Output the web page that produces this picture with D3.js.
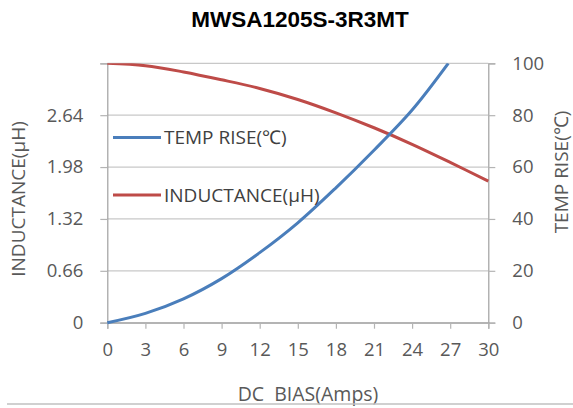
<!DOCTYPE html>
<html>
<head>
<meta charset="utf-8">
<script src="https://cdn.jsdelivr.net/npm/d3@7"></script>
<style>
  html, body { margin: 0; padding: 0; background: #fff; }
  svg { display: block; }
  text { font-family: "Open Sans", sans-serif; fill: #595959; }
</style>
</head>
<body>
<svg id="chart" width="573" height="408"></svg>
<script>
const title = "MWSA1205S-3R3MT";
const xTicks = [0, 3, 6, 9, 12, 15, 18, 21, 24, 27, 30];
const leftTicks = [0, 0.66, 1.32, 1.98, 2.64];
const rightTicks = [0, 20, 40, 60, 80, 100];
const inductAmps = [0, 3, 6, 9, 12, 15, 18, 21, 24, 27, 30];
const inductValues = [3.30, 3.27, 3.19, 3.09, 2.98, 2.84, 2.67, 2.48, 2.27, 2.04, 1.80];
const tempAmps = [0, 3, 6, 9, 12, 15, 18, 21, 24, 26.85];
const tempValues = [0, 3.6, 9.2, 17, 27, 38.5, 52, 66.5, 82, 100];
const seriesNames = ["TEMP RISE(\u2103)", "INDUCTANCE(\u03bcH)"];
const seriesColors = ["#4a7ebb", "#be4b48"];

const svg = d3.select("#chart");
const m = { left: 107.3, right: 488.3, top: 63.3, bottom: 322.7 };

const x = d3.scaleLinear().domain([0, 30]).range([m.left, m.right]);
const yL = d3.scaleLinear().domain([0, 3.3]).range([m.bottom, m.top]);
const yR = d3.scaleLinear().domain([0, 100]).range([m.bottom, m.top]);

// title
svg.append("text").attr("x", 300).attr("y", 27).attr("text-anchor", "middle")
  .style("font-family", "'Liberation Sans', Arial, sans-serif")
  .style("font-weight", "bold").style("font-size", "22.5px").style("fill", "#000")
  .text(title);

// gridlines
svg.append("g").selectAll("line").data(rightTicks).join("line")
  .attr("x1", m.left).attr("x2", m.right)
  .attr("y1", d => yR(d)).attr("y2", d => yR(d))
  .attr("stroke", "#c8c8c8").attr("stroke-width", 1.2);

// left axis
const gL = svg.append("g").attr("transform", `translate(${m.left},0)`)
  .call(d3.axisLeft(yL).tickValues(leftTicks.concat([3.3])).tickSize(7).tickPadding(17)
    .tickFormat(d => d === 3.3 ? "" : (d === 0 ? "0" : d3.format(".2f")(d))));
gL.select(".domain").attr("stroke", "#a0a0a0").attr("stroke-width", 1.2);
gL.selectAll(".tick line").attr("stroke", "#b4b4b4").attr("stroke-width", 1.2);
gL.selectAll(".tick text").style("font-size", "18.5px").style("fill", "#595959")
  .style("font-family", "'Open Sans', sans-serif");

// right axis
const gR = svg.append("g").attr("transform", `translate(${m.right},0)`)
  .call(d3.axisRight(yR).tickValues(rightTicks).tickSize(7).tickPadding(17));
gR.select(".domain").attr("stroke", "#a0a0a0").attr("stroke-width", 1.2);
gR.selectAll(".tick line").attr("stroke", "#b4b4b4").attr("stroke-width", 1.2);
gR.selectAll(".tick text").style("font-size", "18.5px").style("fill", "#595959")
  .style("font-family", "'Open Sans', sans-serif");

// bottom axis
const gB = svg.append("g").attr("transform", `translate(0,${m.bottom})`)
  .call(d3.axisBottom(x).tickValues(xTicks).tickSize(6).tickPadding(14));
gB.select(".domain").attr("stroke", "#a0a0a0").attr("stroke-width", 1.2);
gB.selectAll(".tick line").attr("stroke", "#b4b4b4").attr("stroke-width", 1.2);
gB.selectAll(".tick text").style("font-size", "18.5px").style("fill", "#595959")
  .style("font-family", "'Open Sans', sans-serif");

// curves
svg.append("clipPath").attr("id", "plotclip").append("rect")
  .attr("x", m.left - 2).attr("y", m.top).attr("width", m.right - m.left + 4).attr("height", m.bottom - m.top + 3);

const lineT = d3.line().x(d => x(d[0])).y(d => yR(d[1])).curve(d3.curveCatmullRom.alpha(0.5));
const lineL = d3.line().x(d => x(d[0])).y(d => yL(d[1])).curve(d3.curveCatmullRom.alpha(0.5));

svg.append("path").datum(inductAmps.map((a, i) => [a, inductValues[i]]))
  .attr("d", lineL).attr("fill", "none").attr("stroke", seriesColors[1]).attr("stroke-width", 3)
  .attr("clip-path", "url(#plotclip)");
svg.append("path").datum(tempAmps.map((a, i) => [a, tempValues[i]]))
  .attr("d", lineT).attr("fill", "none").attr("stroke", seriesColors[0]).attr("stroke-width", 3)
  .attr("clip-path", "url(#plotclip)");

// legend
const legY = [137.5, 195];
seriesNames.forEach((n, i) => {
  svg.append("line").attr("x1", 113).attr("x2", 161).attr("y1", legY[i]).attr("y2", legY[i])
    .attr("stroke", seriesColors[i]).attr("stroke-width", 3);
  svg.append("text").attr("x", 164).attr("y", legY[i] + 6.5)
    .style("font-size", "19px").style("fill", "#404040").text(n);
});

// axis titles
svg.append("text").attr("transform", "translate(25,199) rotate(-90)").attr("text-anchor", "middle")
  .style("font-size", "19px").text(seriesNames[1]);
svg.append("text").attr("transform", "translate(568,172) rotate(-90)").attr("text-anchor", "middle")
  .style("font-size", "19px").text(seriesNames[0]);
svg.append("text").attr("x", 308).attr("y", 401).attr("text-anchor", "middle")
  .style("font-size", "19.5px").style("white-space", "pre").attr("xml:space", "preserve")
  .text("DC  BIAS(Amps)");

// bottom border line
svg.append("line").attr("x1", 7).attr("x2", 573).attr("y1", 404).attr("y2", 404)
  .attr("stroke", "#c0c0c0").attr("stroke-width", 1.5);
</script>
</body>
</html>
